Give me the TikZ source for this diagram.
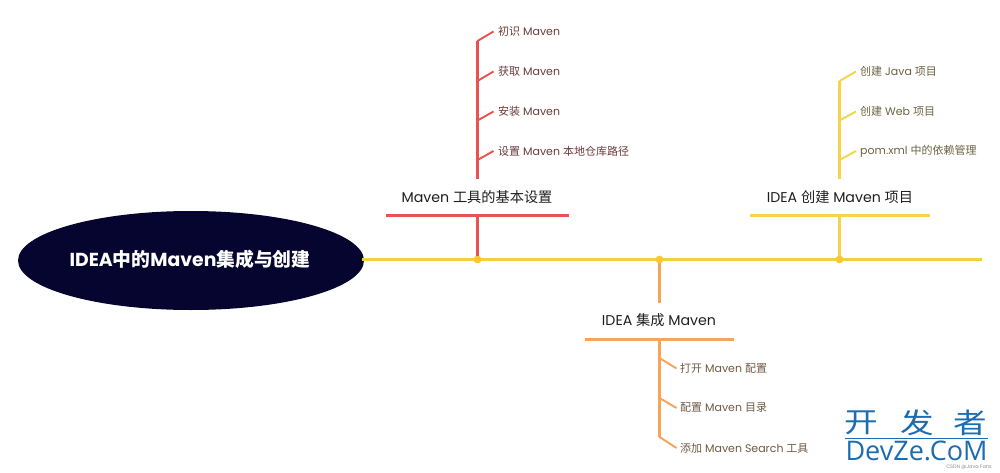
\documentclass[tikz,border=0pt]{standalone}
\usetikzlibrary{shapes.geometric}
\usepackage{graphicx}
\usepackage{fontspec}
\setmainfont{Poppins}
\newfontfamily\cjk{Noto Sans CJK SC}
\newfontfamily\wmfont{Open Sans}
\newfontfamily\wmcjk{Noto Sans CJK SC}
\definecolor{navy}{HTML}{05052F}
\definecolor{mainy}{HTML}{F3D03E}
\definecolor{doty}{HTML}{F9C92E}
\definecolor{redl}{HTML}{E8524F}
\definecolor{orgl}{HTML}{F4A55A}
\definecolor{yell}{HTML}{F5D547}
\definecolor{redt}{HTML}{6B3A3A}
\definecolor{orgt}{HTML}{6E5A45}
\definecolor{yelt}{HTML}{6B6240}
\definecolor{wmblue}{HTML}{1B6CB0}
\tikzset{
  x=1pt,y=-1pt,
  leaf/.style={anchor=west,inner sep=0pt,font=\fontsize{11}{13}\selectfont},
  title/.style={anchor=center,inner sep=0pt,text=black!88,font=\fontsize{14.2}{16}\selectfont},
  hub/.style={circle,fill=doty,inner sep=0pt,minimum size=7.5pt},
  bar/.style={line width=3pt},
  twig/.style={line width=1.9pt},
  trunk/.style={line width=2.1pt},
  wmchar/.style={inner sep=0pt,text=wmblue,font=\wmcjk\fontsize{28}{30}\selectfont}
}
\begin{document}
\begin{tikzpicture}
\useasboundingbox (0,0) rectangle (1000,473);
% root
\node[ellipse,fill=navy,minimum width=346pt,minimum height=99pt,inner sep=0pt] (root) at (191,260.5) {};
\node[inner sep=0pt,text=white,font=\fontsize{18.8}{20}\bfseries\selectfont] (roottext) at (190,259.5) {IDEA{\cjk\bfseries 中的}Maven{\cjk\bfseries 集成与创建}};
% main line
\coordinate (mainstart) at (362,259.5);
\coordinate (mainend) at (982,259.5);
\draw[mainy,line width=2.4pt] (mainstart) -- (mainend);
% red branch
\node[title] (t1) at (477,197) {Maven {\cjk 工具的基本设置}};
\coordinate (b1l) at (386,215); \coordinate (b1r) at (569,215); \coordinate (b1m) at (477.5,215);
\coordinate (s1top) at (477.5,41); \coordinate (s1bot) at (477.5,179);
\coordinate (j11) at (477.5,41); \coordinate (j12) at (477.5,81); \coordinate (j13) at (477.5,120.5); \coordinate (j14) at (477.5,160);
\node[leaf,text=redt] (l11) at (498,31.5) {{\cjk 初识} Maven};
\node[leaf,text=redt] (l12) at (498,71.5) {{\cjk 获取} Maven};
\node[leaf,text=redt] (l13) at (498,111.5) {{\cjk 安装} Maven};
\node[leaf,text=redt] (l14) at (498,151) {{\cjk 设置} Maven {\cjk 本地仓库路径}};
\node[hub] (h1) at (477.5,259.5) {};
\draw[redl,line width=3pt] (b1m) -- (h1.center);
\draw[redl,bar] (b1l) -- (b1r);
\draw[redl,trunk] (s1top) -- (s1bot);
\foreach \i in {1,2,3,4} \draw[redl,twig] (j1\i) -- ([xshift=-4.5pt]l1\i.west);
\fill[doty] (h1) circle (3.75pt);
% orange branch
\node[title] (t2) at (659,320) {IDEA {\cjk 集成} Maven};
\coordinate (b2l) at (585,339); \coordinate (b2r) at (734,339); \coordinate (b2m) at (659.5,339);
\coordinate (s2top) at (659.5,303);
\coordinate (s2bot) at (659.5,437);
\coordinate (j21) at (659.5,358); \coordinate (j22) at (659.5,398); \coordinate (j23) at (659.5,437);
\node[leaf,text=orgt] (l21) at (680,368.5) {{\cjk 打开} Maven {\cjk 配置}};
\node[leaf,text=orgt] (l22) at (680,408) {{\cjk 配置} Maven {\cjk 目录}};
\node[leaf,text=orgt] (l23) at (680,448) {{\cjk 添加} Maven Search {\cjk 工具}};
\node[hub] (h2) at (659.5,259.5) {};
\draw[orgl,line width=3pt] (h2.center) -- (s2top);
\draw[orgl,bar] (b2l) -- (b2r);
\draw[orgl,trunk] (b2m) -- (s2bot);
\foreach \i in {1,2,3} \draw[orgl,twig] (j2\i) -- ([xshift=-3.5pt]l2\i.west);
\fill[doty] (h2) circle (3.75pt);
% yellow branch
\node[title] (t3) at (840,197) {IDEA {\cjk 创建} Maven {\cjk 项目}};
\coordinate (b3l) at (750,215); \coordinate (b3r) at (930,215); \coordinate (b3m) at (839.5,215);
\coordinate (s3top) at (839.5,81); \coordinate (s3bot) at (839.5,179);
\coordinate (j31) at (839.5,81); \coordinate (j32) at (839.5,120.5); \coordinate (j33) at (839.5,160);
\node[leaf,text=yelt] (l31) at (860,71.5) {{\cjk 创建} Java {\cjk 项目}};
\node[leaf,text=yelt] (l32) at (860,111.5) {{\cjk 创建} Web {\cjk 项目}};
\node[leaf,text=yelt] (l33) at (860,151) {pom.xml {\cjk 中的依赖管理}};
\node[hub] (h3) at (839.5,259.5) {};
\draw[yell,line width=3pt] (b3m) -- (h3.center);
\draw[yell,bar] (b3l) -- (b3r);
\draw[yell,trunk] (s3top) -- (s3bot);
\foreach \i in {1,2,3} \draw[yell,twig] (j3\i) -- ([xshift=-4pt]l3\i.west);
\fill[doty] (h3) circle (3.75pt);
% watermark
\node[wmchar] (w1) at (861.5,423) {\scalebox{1.2}[1]{开}};
\node[wmchar] (w2) at (917.5,423) {\scalebox{1.2}[1]{发}};
\node[wmchar] (w3) at (970.5,423) {\scalebox{1.2}[1]{者}};
\coordinate (wl) at (845,438.5); \coordinate (wr) at (988,438.5);
\draw[wmblue,line width=0.6pt] (wl) -- (wr);
\node[inner sep=0pt,text=wmblue,font=\wmfont\fontsize{27}{29}\selectfont] (w4) at (916.5,451) {DevZe.CoM};
\node[inner sep=0pt,text=black!45,font=\fontsize{5}{6}\selectfont] (w5) at (969,467.5) {CSDN @Java Fans};
\end{tikzpicture}
\end{document}
